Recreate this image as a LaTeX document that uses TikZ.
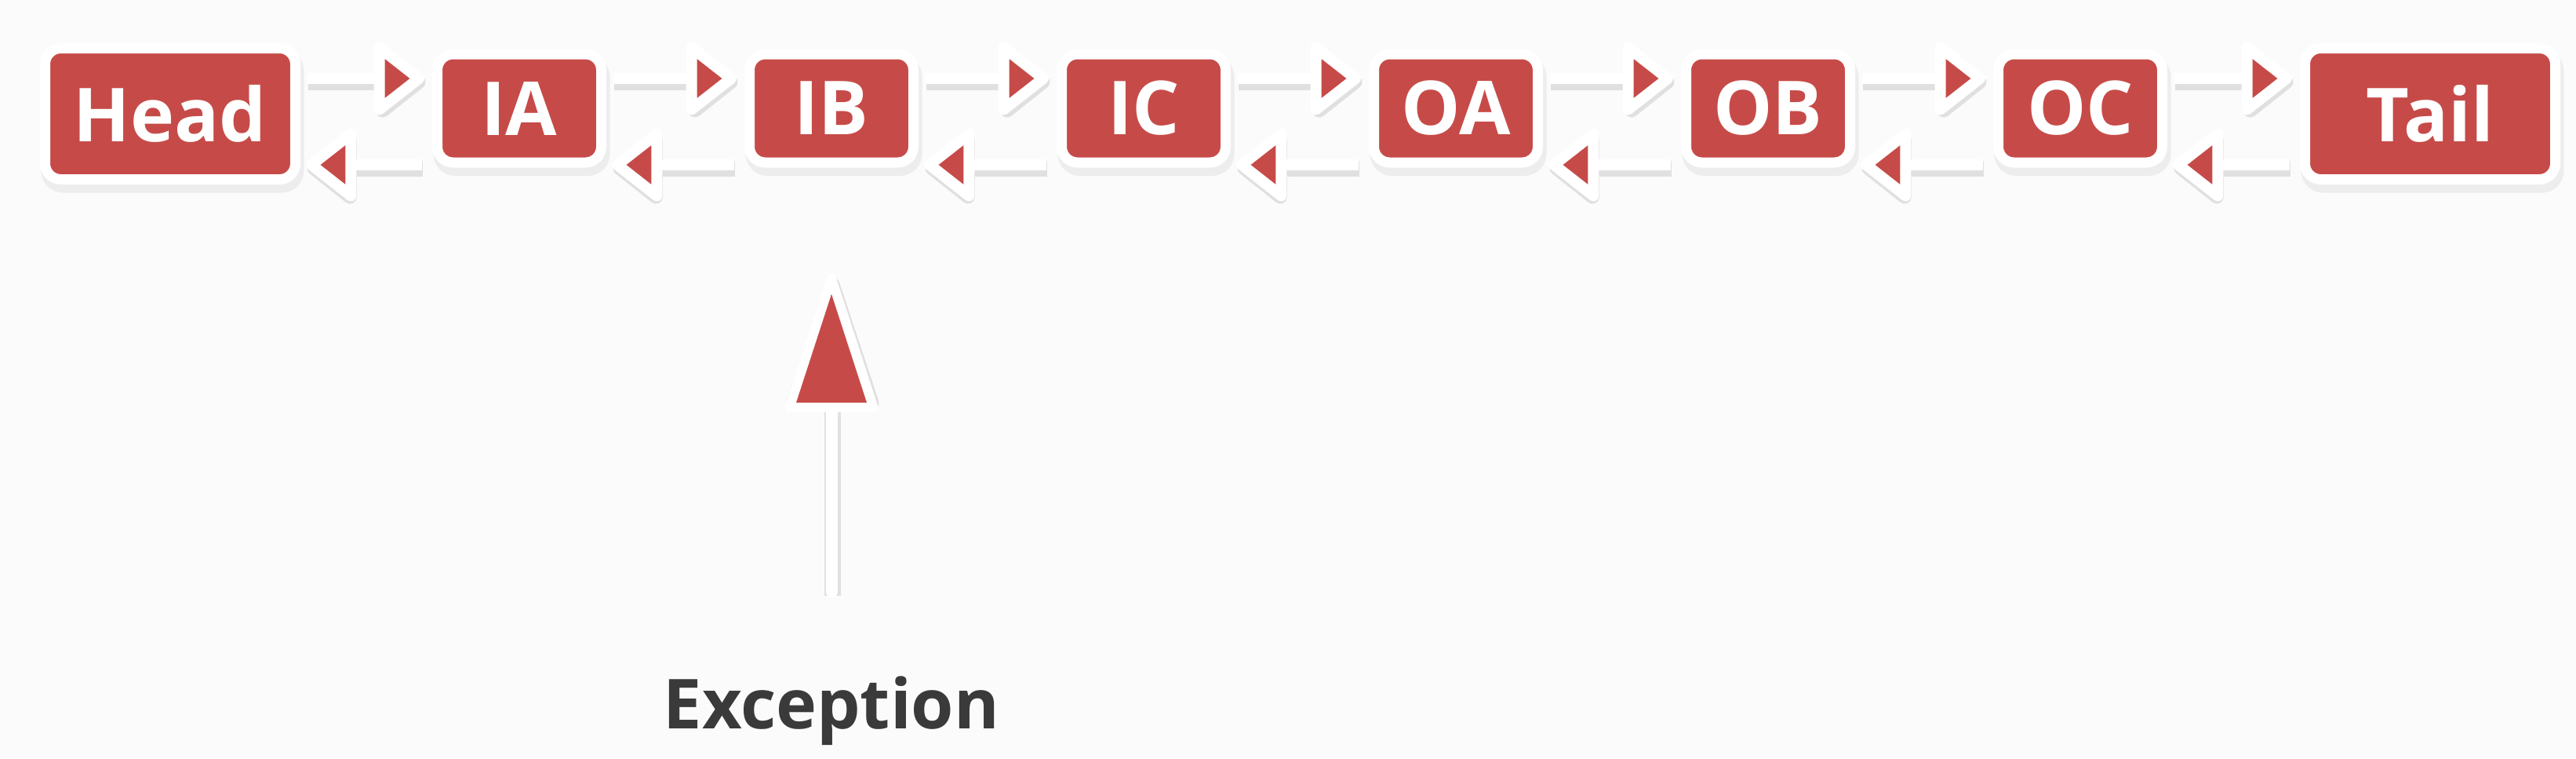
\documentclass[tikz,border=0pt]{standalone}
\usepackage{fontspec}
\newfontfamily\labelfont{Open Sans}
\usepackage{tikz}
\usetikzlibrary{arrows.meta, positioning, shadows}
\definecolor{brickred}{HTML}{C64B48}
\definecolor{inkgrey}{HTML}{3A3A3A}
\definecolor{paper}{HTML}{FBFBFB}

\begin{document}
\begin{tikzpicture}[
  node distance=18.9mm,
  cell/.style={
    fill=brickred, draw=white, line width=1.3mm, rounded corners=2mm,
    minimum width=20.9mm, minimum height=13.8mm, inner sep=0pt, outer sep=0pt,
    text=white, font=\labelfont\bfseries\fontsize{27}{30}\selectfont,
    drop shadow={shadow xshift=0.3mm, shadow yshift=-0.9mm,
      fill=black!13, draw=black!7, line width=1.6mm, opacity=1}
  },
  endcell/.style={cell, minimum width=31.9mm, minimum height=16.7mm},
  link/.style={
    draw=white, line width=1.4mm,
    -{Triangle[length=6.9mm, width=10.4mm, line width=1.4mm, round, fill=brickred]},
    preaction={draw=black!12, line width=2mm,
      transform canvas={shift={(0.15mm,-0.45mm)}},
      -{Triangle[length=6.9mm, width=10.4mm, line width=2mm, round, fill=black!12]}}
  },
  pointer/.style={
    draw=white, line width=1.5mm, line cap=round,
    -{Triangle[length=19mm, width=12mm, line width=1.2mm, round, fill=brickred]},
    preaction={draw=black!12, line width=2.1mm,
      transform canvas={shift={(0.15mm,-0.45mm)}},
      -{Triangle[length=19mm, width=12mm, line width=1.8mm, round, fill=black!12]}}
  },
  note/.style={text=inkgrey, inner sep=0pt, outer sep=0pt,
    font=\labelfont\bfseries\fontsize{25}{28}\selectfont}
]
  \fill[paper] (0,0) rectangle (328.4mm,-96.6mm);
  \useasboundingbox (0,0) rectangle (328.4mm,-96.6mm);

  % the list
  \node[cell] (ia) at (66.2mm,-13.8mm) {IA};
  \node[endcell, left=18.1mm of ia, yshift=-0.7mm] (head) {Head};
  \node[cell, right=of ia] (ib) {IB};
  \node[cell, right=of ib] (ic) {IC};
  \node[cell, right=of ic] (oa) {OA};
  \node[cell, right=of oa] (ob) {OB};
  \node[cell, right=of ob] (oc) {OC};
  \node[endcell, right=18.2mm of oc, yshift=-0.7mm] (tail) {Tail};

  \coordinate (nextrow) at (0,-10mm);
  \coordinate (prevrow) at (0,-21mm);

  % next links
  \draw[link, shorten <=1.5mm, shorten >=1.65mm] (head.east |- nextrow) -- (ia.west |- nextrow);
  \draw[link, shorten <=1.5mm, shorten >=1.65mm] (ia.east |- nextrow) -- (ib.west |- nextrow);
  \draw[link, shorten <=1.5mm, shorten >=1.65mm] (ib.east |- nextrow) -- (ic.west |- nextrow);
  \draw[link, shorten <=1.5mm, shorten >=1.65mm] (ic.east |- nextrow) -- (oa.west |- nextrow);
  \draw[link, shorten <=1.5mm, shorten >=1.65mm] (oa.east |- nextrow) -- (ob.west |- nextrow);
  \draw[link, shorten <=1.5mm, shorten >=1.65mm] (ob.east |- nextrow) -- (oc.west |- nextrow);
  \draw[link, shorten <=1.5mm, shorten >=1.65mm] (oc.east |- nextrow) -- (tail.west |- nextrow);

  % prev links
  \draw[link, shorten <=2mm, shorten >=1.35mm] (ia.west |- prevrow) -- (head.east |- prevrow);
  \draw[link, shorten <=2mm, shorten >=1.35mm] (ib.west |- prevrow) -- (ia.east |- prevrow);
  \draw[link, shorten <=2mm, shorten >=1.35mm] (ic.west |- prevrow) -- (ib.east |- prevrow);
  \draw[link, shorten <=2mm, shorten >=1.35mm] (oa.west |- prevrow) -- (ic.east |- prevrow);
  \draw[link, shorten <=2mm, shorten >=1.35mm] (ob.west |- prevrow) -- (oa.east |- prevrow);
  \draw[link, shorten <=2mm, shorten >=1.35mm] (oc.west |- prevrow) -- (ob.east |- prevrow);
  \draw[link, shorten <=2mm, shorten >=1.35mm] (tail.west |- prevrow) -- (oc.east |- prevrow);

  % where it fails
  \node[note, below=65.5mm of ib] (exc) {Exception};
  \draw[pointer, shorten <=10.8mm, shorten >=14.2mm] (exc) -- (ib);
\end{tikzpicture}
\end{document}
